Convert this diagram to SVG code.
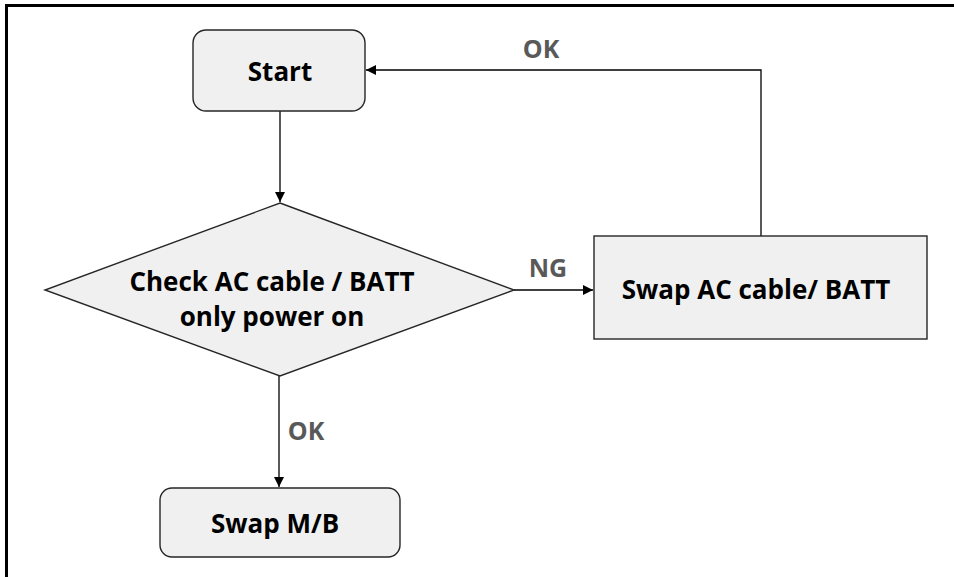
<svg xmlns="http://www.w3.org/2000/svg" width="954" height="577" viewBox="0 0 954 577">
<style>
.node{fill:#f0f0f0;stroke:#262626;stroke-width:1.4}
.t{font-family:"Open Sans","Liberation Sans",sans-serif;font-weight:bold;fill:#000;text-anchor:middle;font-size:26px}
.lbl{font-family:"Open Sans","Liberation Sans",sans-serif;font-weight:bold;fill:#595959;text-anchor:middle;font-size:25px}
.c{fill:none;stroke:#000;stroke-width:1.3}
</style>
<defs>
<marker id="arr" viewBox="0 0 10 10" refX="10" refY="5" markerWidth="10" markerHeight="10" markerUnits="userSpaceOnUse" orient="auto">
<path d="M0,0 L10,5 L0,10 z" fill="#000"/>
</marker>
</defs>
<rect width="954" height="577" fill="#fff"/>
<path d="M6.5,577 V5.5 H954" fill="none" stroke="#000" stroke-width="3"/>
<g id="connectors">
<path class="c" d="M280,111 V202" marker-end="url(#arr)"/>
<path class="c" d="M514,290 H593" marker-end="url(#arr)"/>
<path class="c" d="M761,236 V70 H366" marker-end="url(#arr)"/>
<path class="c" d="M279,376 V487" marker-end="url(#arr)"/>
<text class="lbl" x="541" y="58">OK</text>
<text class="lbl" x="548" y="277">NG</text>
<text class="lbl" x="306" y="440">OK</text>
</g>
<g id="start">
<rect class="node" x="193" y="30" width="172" height="81" rx="13"/>
<text class="t" x="280" y="81">Start</text>
</g>
<g id="check">
<polygon class="node" points="280,203 514,290 280,376 45,290"/>
<text class="t" x="272" y="291">Check AC cable  / BATT</text>
<text class="t" x="272" y="326">only power on</text>
</g>
<g id="swapac">
<rect class="node" x="594" y="236" width="333" height="103"/>
<text class="t" x="756" y="299">Swap AC cable/ BATT</text>
</g>
<g id="swapmb">
<rect class="node" x="160" y="488" width="240" height="69" rx="12"/>
<text class="t" x="275" y="533">Swap M/B</text>
</g>
</svg>
